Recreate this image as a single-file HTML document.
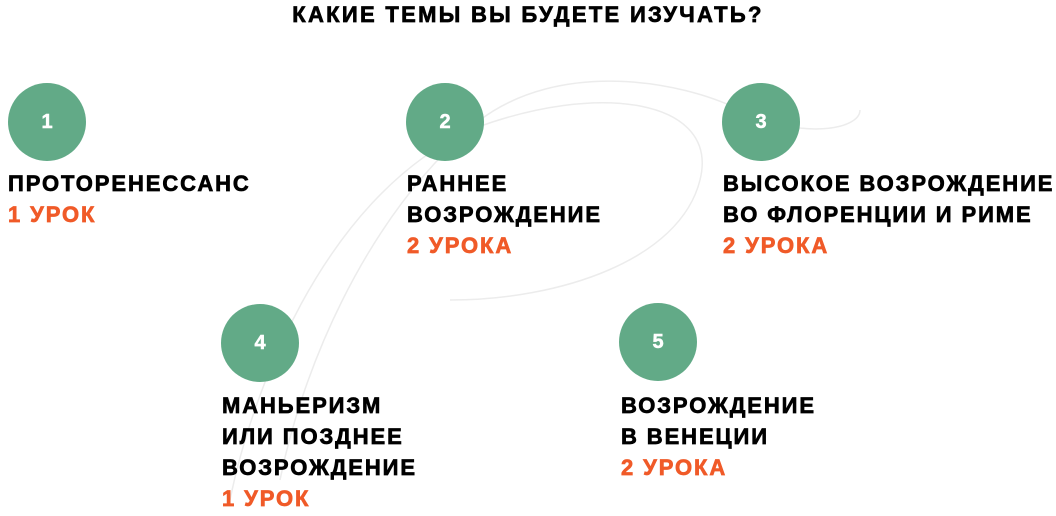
<!DOCTYPE html>
<html><head><meta charset="utf-8"><style>
body{margin:0;width:1056px;height:516px;background:#fff;position:relative;overflow:hidden;font-family:"Liberation Sans",sans-serif;font-weight:bold}
.t{position:absolute;left:0;width:1056px;text-align:center;top:1px;font-size:22px;letter-spacing:2.3px;color:#000;line-height:28px;-webkit-text-stroke:0.7px #000}
.c{position:absolute;width:78px;height:78px;border-radius:50%;background:#62aa87;color:#fff;font-size:20px;line-height:78px;text-align:center;-webkit-text-stroke:0.5px #fff}
.b{position:absolute;font-size:22px;letter-spacing:1.9px;line-height:31px;color:#000;white-space:nowrap;-webkit-text-stroke:0.7px #000}
.o{color:#f05a28;-webkit-text-stroke:0.7px #f05a28}
</style></head><body>
<svg style="position:absolute;left:0;top:0" width="1056" height="516">
<g fill="none" stroke="#ececec" stroke-width="1.5">
<path d="M230 500 C250 400 320 200 470 130 C600 80 720 100 700 180 C680 260 560 300 450 300"/>
<path d="M280 480 C300 380 360 220 480 120 C560 60 680 80 740 110 C800 140 860 130 860 110"/>
</g></svg>
<div class="t">КАКИЕ ТЕМЫ ВЫ БУДЕТЕ ИЗУЧАТЬ?</div>
<div class="c" style="left:8px;top:83px">1</div>
<div class="c" style="left:406px;top:83px">2</div>
<div class="c" style="left:722px;top:83px">3</div>
<div class="c" style="left:221px;top:304px">4</div>
<div class="c" style="left:619px;top:303px">5</div>
<div class="b" style="left:8px;top:168px">ПРОТОРЕНЕССАНС<br><span class="o">1 УРОК</span></div>
<div class="b" style="left:407px;top:168px">РАННЕЕ<br>ВОЗРОЖДЕНИЕ<br><span class="o">2 УРОКА</span></div>
<div class="b" style="left:723px;top:168px">ВЫСОКОЕ ВОЗРОЖДЕНИЕ<br>ВО ФЛОРЕНЦИИ И РИМЕ<br><span class="o">2 УРОКА</span></div>
<div class="b" style="left:222px;top:390px">МАНЬЕРИЗМ<br>ИЛИ ПОЗДНЕЕ<br>ВОЗРОЖДЕНИЕ<br><span class="o">1 УРОК</span></div>
<div class="b" style="left:621px;top:390px">ВОЗРОЖДЕНИЕ<br>В ВЕНЕЦИИ<br><span class="o">2 УРОКА</span></div>
</body></html>
